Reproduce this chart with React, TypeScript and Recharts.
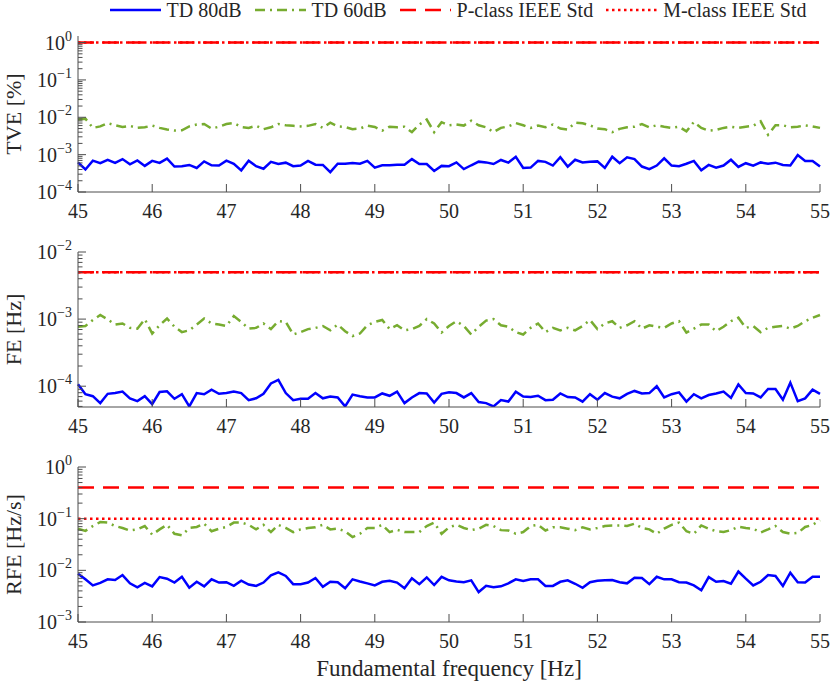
import React from "react";
import { LineChart, Line, XAxis, YAxis, ReferenceLine, Legend } from "recharts";

// frequency grid, 45..55 Hz in 0.1 Hz steps
const freqs = Array.from({ length: 101 }, (_, i) => Math.round((45 + i * 0.1) * 10) / 10);
const xTicks = [45, 46, 47, 48, 49, 50, 51, 52, 53, 54, 55];
const minorSteps = [2, 3, 4, 5, 6, 7, 8, 9];

const seriesNames = ["TD 80dB", "TD 60dB", "P-class IEEE Std", "M-class IEEE Std"];

// TVE [%]
const tve80 = [
  6.2e-4, 4.0e-4, 6.9e-4, 5.9e-4, 7.3e-4, 6.0e-4, 7.6e-4, 5.5e-4, 7.0e-4, 5.0e-4,
  6.8e-4, 6.0e-4, 7.8e-4, 4.8e-4, 4.9e-4, 5.3e-4, 4.4e-4, 6.6e-4, 5.2e-4, 5.1e-4,
  6.9e-4, 5.7e-4, 3.8e-4, 6.9e-4, 4.9e-4, 4.2e-4, 6.4e-4, 5.6e-4, 6.1e-4, 4.9e-4,
  5.1e-4, 6.8e-4, 5.4e-4, 5.3e-4, 3.4e-4, 5.7e-4, 5.7e-4, 6.0e-4, 5.7e-4, 6.8e-4,
  4.5e-4, 5.2e-4, 5.2e-4, 5.4e-4, 5.4e-4, 7.6e-4, 5.6e-4, 5.6e-4, 3.65e-4, 5.0e-4,
  4.9e-4,
  6.2e-4, 4.1e-4, 5.2e-4, 6.5e-4, 6.2e-4, 5.6e-4, 7.2e-4, 6.1e-4, 8.8e-4, 4.4e-4,
  4.5e-4, 6.8e-4, 6.4e-4, 5.1e-4, 8.5e-4, 4.8e-4, 7.3e-4, 6.2e-4, 6.5e-4, 6.6e-4,
  4.4e-4, 8.8e-4, 5.9e-4, 8.5e-4, 7.6e-4, 4.8e-4, 4.1e-4, 5.1e-4, 8.0e-4, 5.1e-4,
  4.9e-4, 5.7e-4, 6.8e-4, 3.8e-4, 5.3e-4, 4.5e-4, 5.1e-4, 7.3e-4, 4.7e-4, 5.9e-4,
  5.1e-4, 6.2e-4, 5.7e-4, 6.1e-4, 5.3e-4, 5.1e-4, 9.8e-4, 6.8e-4, 6.8e-4, 4.8e-4,
];
const tve60 = [
  8.7e-3, 9.2e-3, 5.2e-3, 5.7e-3, 7.0e-3, 6.1e-3, 5.5e-3, 5.9e-3, 5.2e-3, 5.4e-3,
  6.0e-3, 5.2e-3, 4.7e-3, 4.4e-3, 4.5e-3, 5.7e-3, 6.4e-3, 6.6e-3, 5.0e-3, 5.6e-3,
  6.6e-3, 7.0e-3, 5.5e-3, 5.2e-3, 5.9e-3, 4.8e-3, 5.4e-3, 6.6e-3, 6.1e-3, 5.9e-3,
  5.7e-3, 5.9e-3, 6.6e-3, 5.2e-3, 7.2e-3, 5.7e-3, 5.5e-3, 4.8e-3, 5.0e-3, 6.0e-3,
  5.5e-3, 4.4e-3, 5.6e-3, 5.4e-3, 5.6e-3, 4.0e-3, 6.4e-3, 8.7e-3, 4.0e-3, 7.4e-3,
  6.1e-3,
  6.4e-3, 6.0e-3, 8.1e-3, 6.1e-3, 5.4e-3, 4.0e-3, 5.2e-3, 5.7e-3, 7.0e-3, 6.1e-3,
  5.2e-3, 6.0e-3, 5.4e-3, 6.4e-3, 5.0e-3, 4.7e-3, 7.2e-3, 6.9e-3, 6.1e-3, 5.0e-3,
  4.8e-3, 4.0e-3, 4.9e-3, 5.4e-3, 5.6e-3, 6.6e-3, 5.4e-3, 6.1e-3, 5.6e-3, 5.2e-3,
  5.6e-3, 4.2e-3, 7.5e-3, 5.2e-3, 4.4e-3, 4.6e-3, 5.2e-3, 5.6e-3, 5.2e-3, 5.6e-3,
  5.9e-3, 7.8e-3, 3.4e-3, 6.1e-3, 6.1e-3, 5.4e-3, 5.6e-3, 6.1e-3, 5.7e-3, 5.2e-3,
];

// FE [Hz]
const fe80 = [
  1.07e-4, 7.6e-5, 7.1e-5, 5.6e-5, 7.7e-5, 7.9e-5, 8.3e-5, 6.6e-5, 6.0e-5, 7.1e-5,
  5.4e-5, 8.2e-5, 8.4e-5, 6.5e-5, 7.6e-5, 5.0e-5, 7.9e-5, 7.6e-5, 8.9e-5, 7.7e-5,
  7.9e-5, 8.3e-5, 7.9e-5, 6.2e-5, 6.6e-5, 7.7e-5, 1.1e-4, 1.24e-4, 7.9e-5, 6.2e-5,
  6.5e-5, 6.5e-5, 7.9e-5, 6.6e-5, 7.0e-5, 6.8e-5, 5.0e-5, 7.5e-5, 7.1e-5, 6.8e-5,
  6.8e-5, 7.8e-5, 7.2e-5, 8.3e-5, 5.6e-5, 6.8e-5, 7.9e-5, 7.8e-5, 5.7e-5, 7.7e-5,
  8.1e-5,
  7.9e-5, 6.8e-5, 7.9e-5, 5.8e-5, 5.6e-5, 5.0e-5, 6.2e-5, 5.9e-5, 8.3e-5, 7.0e-5,
  6.9e-5, 7.2e-5, 6.2e-5, 6.3e-5, 7.8e-5, 6.9e-5, 6.8e-5, 5.9e-5, 7.6e-5, 6.3e-5,
  7.9e-5, 7.0e-5, 6.6e-5, 7.7e-5, 8.5e-5, 7.8e-5, 7.9e-5, 1.0e-4, 6.8e-5, 7.6e-5,
  8.1e-5, 5.9e-5, 7.6e-5, 6.6e-5, 7.4e-5, 7.8e-5, 8.3e-5, 6.7e-5, 1.06e-4, 7.9e-5,
  7.8e-5, 6.8e-5, 9.1e-5, 9.1e-5, 6.3e-5, 1.13e-4, 6.0e-5, 6.6e-5, 8.9e-5, 7.7e-5,
];
const fe60 = [
  7.7e-4, 7.9e-4, 9.7e-4, 1.15e-3, 9.9e-4, 8.3e-4, 8.6e-4, 7.4e-4, 7.2e-4, 1.0e-3,
  6.1e-4, 8.1e-4, 1.02e-3, 7.7e-4, 6.4e-4, 6.8e-4, 8.3e-4, 1.02e-3, 8.6e-4, 8.3e-4,
  7.9e-4, 1.11e-3, 9.1e-4, 7.2e-4, 7.4e-4, 8.6e-4, 7.1e-4, 9.3e-4, 9.1e-4, 5.9e-4,
  6.4e-4, 7.1e-4, 7.4e-4, 7.9e-4, 6.8e-4, 8.3e-4, 6.6e-4, 5.6e-4, 6.1e-4, 8.1e-4,
  9.1e-4, 9.7e-4, 7.1e-4, 8.1e-4, 6.8e-4, 7.1e-4, 7.9e-4, 1.0e-3, 8.6e-4, 6.3e-4,
  7.9e-4,
  9.3e-4, 7.9e-4, 5.9e-4, 7.7e-4, 9.5e-4, 1.0e-3, 8.1e-4, 7.7e-4, 6.4e-4, 5.9e-4,
  7.4e-4, 8.6e-4, 6.4e-4, 7.4e-4, 6.8e-4, 7.4e-4, 6.8e-4, 7.9e-4, 9.7e-4, 7.1e-4,
  8.6e-4, 9.3e-4, 7.4e-4, 8.1e-4, 9.3e-4, 7.2e-4, 8.1e-4, 7.7e-4, 7.4e-4, 8.6e-4,
  9.3e-4, 6.3e-4, 7.2e-4, 8.3e-4, 8.3e-4, 6.6e-4, 7.7e-4, 9.3e-4, 1.05e-3, 7.4e-4,
  7.9e-4, 6.4e-4, 7.4e-4, 7.7e-4, 7.9e-4, 7.2e-4, 7.9e-4, 9.3e-4, 1.05e-3, 1.15e-3,
];

// RFE [Hz/s]
const rfe80 = [
  8.6e-3, 6.7e-3, 5.1e-3, 5.7e-3, 6.7e-3, 6.5e-3, 8.1e-3, 5.6e-3, 4.7e-3, 5.7e-3,
  4.9e-3, 7.4e-3, 6.9e-3, 5.8e-3, 7.5e-3, 4.6e-3, 6.0e-3, 4.9e-3, 6.7e-3, 5.8e-3,
  5.9e-3, 5.0e-3, 6.3e-3, 5.3e-3, 5.0e-3, 5.8e-3, 8.0e-3, 9.1e-3, 7.8e-3, 5.4e-3,
  5.4e-3, 5.8e-3, 7.1e-3, 4.8e-3, 6.0e-3, 5.9e-3, 4.5e-3, 6.7e-3, 6.1e-3, 5.6e-3,
  5.1e-3, 6.0e-3, 6.3e-3, 5.8e-3, 4.5e-3, 7.0e-3, 5.4e-3, 7.3e-3, 5.2e-3, 7.5e-3,
  6.4e-3,
  6.1e-3, 5.9e-3, 6.4e-3, 3.8e-3, 5.0e-3, 4.7e-3, 4.9e-3, 5.6e-3, 6.7e-3, 6.2e-3,
  6.7e-3, 6.7e-3, 5.0e-3, 5.0e-3, 6.0e-3, 6.4e-3, 5.5e-3, 4.6e-3, 5.9e-3, 6.3e-3,
  6.4e-3, 6.5e-3, 5.9e-3, 5.6e-3, 7.2e-3, 7.1e-3, 5.4e-3, 7.5e-3, 6.7e-3, 6.7e-3,
  5.9e-3, 5.8e-3, 5.1e-3, 4.1e-3, 7.4e-3, 6.0e-3, 6.2e-3, 5.5e-3, 9.5e-3, 6.9e-3,
  5.1e-3, 6.0e-3, 8.1e-3, 7.8e-3, 5.0e-3, 9.0e-3, 5.9e-3, 5.8e-3, 7.5e-3, 7.5e-3,
];
const rfe60 = [
  6.4e-2, 5.8e-2, 7.2e-2, 8.6e-2, 8.4e-2, 7.2e-2, 6.6e-2, 5.9e-2, 6.2e-2, 7.2e-2,
  4.9e-2, 6.2e-2, 7.6e-2, 5.1e-2, 4.75e-2, 6.6e-2, 6.9e-2, 8.0e-2, 5.7e-2, 6.4e-2,
  6.9e-2, 8.4e-2, 8.4e-2, 7.6e-2, 6.2e-2, 7.6e-2, 5.5e-2, 7.6e-2, 6.6e-2, 5.5e-2,
  6.2e-2, 6.6e-2, 6.8e-2, 7.6e-2, 6.2e-2, 6.4e-2, 5.7e-2, 4.4e-2, 5.1e-2, 6.6e-2,
  6.6e-2, 7.6e-2, 5.5e-2, 6.1e-2, 5.5e-2, 5.5e-2, 5.5e-2, 7.2e-2, 8.4e-2, 5.1e-2,
  6.8e-2,
  7.6e-2, 6.6e-2, 6.0e-2, 6.4e-2, 7.6e-2, 7.2e-2, 6.0e-2, 5.9e-2, 5.1e-2, 5.5e-2,
  7.2e-2, 7.6e-2, 5.9e-2, 6.8e-2, 6.8e-2, 6.4e-2, 6.0e-2, 6.8e-2, 6.2e-2, 6.6e-2,
  7.2e-2, 7.4e-2, 7.4e-2, 7.2e-2, 8.0e-2, 6.6e-2, 6.2e-2, 5.1e-2, 6.4e-2, 7.6e-2,
  8.4e-2, 5.7e-2, 5.1e-2, 7.4e-2, 6.4e-2, 5.7e-2, 5.5e-2, 6.0e-2, 7.0e-2, 6.6e-2,
  6.4e-2, 5.4e-2, 6.2e-2, 7.2e-2, 5.5e-2, 5.1e-2, 5.3e-2, 6.9e-2, 7.6e-2, 9.3e-2,
];

// IEEE limits per panel (TVE, FE, RFE)
const pClassLimits = [1, 0.005, 0.4];
const mClassLimits = [1, 0.005, 0.1];

const yLabels = ["TVE [%]", "FE [Hz]", "RFE [Hz/s]"];
const yDomains = [[1e-4, 1.5], [4.9e-5, 1e-2], [1e-3, 1]];
const yMajors = [
  [1e-4, 1e-3, 1e-2, 1e-1, 1],
  [1e-5, 1e-4, 1e-3, 1e-2],
  [1e-3, 1e-2, 1e-1, 1],
];
const xLabel = "Fundamental frequency [Hz]";

const FONT = '"Liberation Serif", "Times New Roman", serif';
const AXIS = "#4d4d4d";
const TEXT = "#262626";
const BLUE = "#0000ff";
const GREEN = "#77ac30";
const RED = "#ff0000";
const DASHDOT = "10 5 2 5";
const DASHED = "16 9";
const DOTTED = "2.5 3.5";

function logTicks(majors, domain) {
  const all = [];
  majors.forEach((m) => {
    all.push(m);
    minorSteps.forEach((k) => all.push(k * m));
  });
  return all.filter((v) => v >= domain[0] * 0.999 && v <= domain[1] * 1.001);
}

const isMajor = (v) => Math.abs(Math.log10(v) - Math.round(Math.log10(v))) < 1e-6;

const YTickLeft = (props) => {
  const { x, y, payload } = props;
  const v = payload.value;
  const major = isMajor(v);
  const exp = Math.round(Math.log10(v));
  return (
    <g>
      <line x1={x} x2={x + (major ? 8 : 4.5)} y1={y} y2={y} stroke={AXIS} strokeWidth={1} />
      {major && (
        <text x={x - 6} y={y} textAnchor="end" fill={TEXT} fontFamily={FONT} fontSize={20}>
          <tspan dy={7}>10</tspan>
          <tspan dy={-9} fontSize={14}>{exp < 0 ? "\u2212" + Math.abs(exp) : String(exp)}</tspan>
        </text>
      )}
    </g>
  );
};

const YTickRight = (props) => {
  const { x, y, payload } = props;
  const major = isMajor(payload.value);
  return <line x1={x} x2={x - (major ? 8 : 4.5)} y1={y} y2={y} stroke={AXIS} strokeWidth={1} />;
};

const XTickBottom = (props) => {
  const { x, y, payload } = props;
  return (
    <g>
      <line x1={x} x2={x} y1={y} y2={y - 8} stroke={AXIS} strokeWidth={1} />
      <text x={x} y={y + 18.5} textAnchor="middle" dominantBaseline="central" fill={TEXT} fontFamily={FONT} fontSize={20}>
        {payload.value}
      </text>
    </g>
  );
};

const XTickTop = (props) => {
  const { x, y } = props;
  return <line x1={x} x2={x} y1={y} y2={y + 8} stroke={AXIS} strokeWidth={1} />;
};

const renderLegend = () => {
  const items = [
    { name: seriesNames[0], color: BLUE, dash: undefined },
    { name: seriesNames[1], color: GREEN, dash: DASHDOT },
    { name: seriesNames[2], color: RED, dash: DASHED },
    { name: seriesNames[3], color: RED, dash: DOTTED },
  ];
  return (
    <div style={{ display: "flex", gap: 13, justifyContent: "center", alignItems: "center", paddingLeft: 86, height: 20 }}>
      {items.map((it) => (
        <div key={it.name} style={{ display: "flex", alignItems: "center", gap: 6 }}>
          <svg width={51} height={10}>
            <line x1={0} x2={51} y1={5} y2={5} stroke={it.color} strokeWidth={2.5} strokeDasharray={it.dash} />
          </svg>
          <span style={{ fontFamily: FONT, fontSize: 20, color: TEXT, lineHeight: "20px" }}>{it.name}</span>
        </div>
      ))}
    </div>
  );
};

function Panel({ idx, s80, s60, top, height, bottom, legend, showXLabel }) {
  const data = freqs.map((f, i) => ({ f, td80: s80[i], td60: s60[i] }));
  const domain = yDomains[idx];
  const ticks = logTicks(yMajors[idx], domain);
  return (
    <div style={{ position: "absolute", left: 0, top, width: 830, height }}>
      <LineChart width={830} height={height} data={data} margin={{ top: 36, right: 10, bottom: 0, left: 0 }}>
        <XAxis
          xAxisId="b"
          dataKey="f"
          type="number"
          domain={[45, 55]}
          ticks={xTicks}
          interval={0}
          height={bottom}
          tickSize={0}
          tickMargin={0}
          tickLine={false}
          axisLine={{ stroke: AXIS }}
          tick={XTickBottom}
          label={
            showXLabel
              ? {
                  content: (lp) => {
                    const vb = lp.viewBox || {};
                    return (
                      <text x={vb.x + vb.width / 2} y={vb.y + 46} textAnchor="middle" dominantBaseline="central" fill={TEXT} fontFamily={FONT} fontSize={23}>
                        {xLabel}
                      </text>
                    );
                  },
                }
              : undefined
          }
        />
        <XAxis
          xAxisId="t"
          orientation="top"
          dataKey="f"
          type="number"
          domain={[45, 55]}
          ticks={xTicks}
          interval={0}
          height={0}
          tickSize={0}
          tickMargin={0}
          tickLine={false}
          axisLine={{ stroke: AXIS }}
          tick={XTickTop}
        />
        <YAxis
          yAxisId="l"
          type="number"
          scale="log"
          domain={domain}
          allowDataOverflow
          ticks={ticks}
          interval={0}
          width={78}
          tickSize={0}
          tickMargin={0}
          tickLine={false}
          axisLine={{ stroke: AXIS }}
          tick={YTickLeft}
          label={{
            content: (lp) => {
              const vb = lp.viewBox || {};
              const cx = 13;
              const cy = vb.y + vb.height / 2;
              return (
                <text x={cx} y={cy} transform={`rotate(-90, ${cx}, ${cy})`} textAnchor="middle" dominantBaseline="central" fill={TEXT} fontFamily={FONT} fontSize={22}>
                  {yLabels[idx]}
                </text>
              );
            },
          }}
        />
        <YAxis
          yAxisId="r"
          orientation="right"
          type="number"
          scale="log"
          domain={domain}
          allowDataOverflow
          ticks={ticks}
          interval={0}
          width={0}
          tickSize={0}
          tickMargin={0}
          tickLine={false}
          axisLine={{ stroke: AXIS }}
          tick={YTickRight}
        />
        <Line xAxisId="b" yAxisId="l" dataKey="td80" name={seriesNames[0]} stroke={BLUE} strokeWidth={2.5} dot={false} isAnimationActive={false} />
        <Line xAxisId="b" yAxisId="l" dataKey="td60" name={seriesNames[1]} stroke={GREEN} strokeWidth={2.5} strokeDasharray={DASHDOT} dot={false} isAnimationActive={false} />
        <ReferenceLine xAxisId="b" yAxisId="l" y={pClassLimits[idx]} stroke={RED} strokeWidth={2.5} strokeDasharray={DASHED} />
        <ReferenceLine xAxisId="b" yAxisId="l" y={mClassLimits[idx]} stroke={RED} strokeWidth={2.5} strokeDasharray={DOTTED} />
        {legend && (
          <Legend
            layout="horizontal"
            verticalAlign="middle"
            align="center"
            content={renderLegend}
            wrapperStyle={{ top: 0, left: 0, width: 830, height: 20 }}
          />
        )}
      </LineChart>
    </div>
  );
}

export default function App() {
  return (
    <div style={{ position: "absolute", left: 0, top: 0, width: 830, height: 682, background: "#fff" }}>
      <Panel idx={0} s80={tve80} s60={tve60} top={0} height={236} bottom={44} legend />
      <Panel idx={1} s80={fe80} s60={fe60} top={216} height={236} bottom={45} />
      <Panel idx={2} s80={rfe80} s60={rfe60} top={431} height={251} bottom={60} showXLabel />
    </div>
  );
}
